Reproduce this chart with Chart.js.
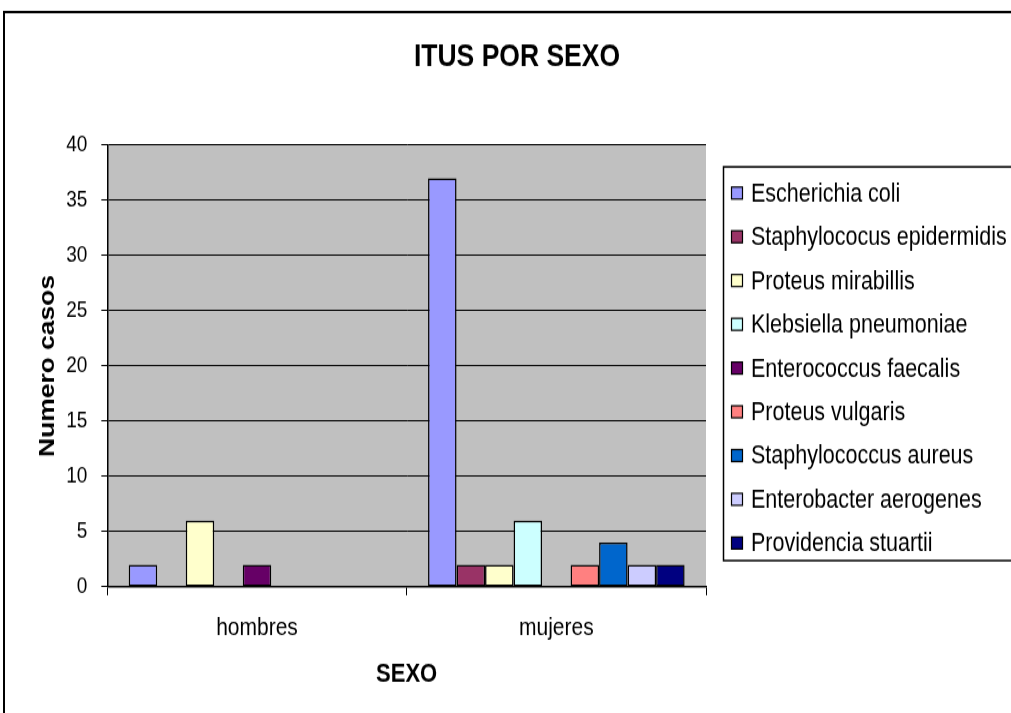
<!DOCTYPE html>
<html>
<head>
<meta charset="utf-8">
<script src="https://cdn.jsdelivr.net/npm/chart.js@4.4.1/dist/chart.umd.min.js"></script>
<style>
  html, body { margin: 0; padding: 0; background: #fff; overflow: hidden; }
  /* the reference is a little taller than wide-proportioned, so stretch the canvas vertically */
  #chart { display: block; width: 1011px !important; height: 713px !important; }
</style>
</head>
<body>
<canvas id="chart" width="1011" height="594" style="width:1011px;height:713px;"></canvas>
<script>
// ─── Data ────────────────────────────────────────────────────────────────────
const chartTitle = 'ITUS POR SEXO';
const categories = ['hombres', 'mujeres'];

const seriesNames = [
  'Escherichia coli',
  'Staphylococus epidermidis',
  'Proteus mirabillis',
  'Klebsiella pneumoniae',
  'Enterococcus faecalis',
  'Proteus vulgaris',
  'Staphylococcus aureus',
  'Enterobacter aerogenes',
  'Providencia stuartii',
];

const escherichiaColi    = [2, 37];
const staphEpidermidis   = [0, 2];
const proteusMirabillis  = [6, 2];
const klebsiella         = [0, 6];
const enterococcus       = [2, 0];
const proteusVulgaris    = [0, 2];
const staphAureus        = [0, 4];
const enterobacter       = [0, 2];
const providencia        = [0, 2];

const yTicks = [0, 5, 10, 15, 20, 25, 30, 35, 40];

const seriesValues = [
  escherichiaColi, staphEpidermidis, proteusMirabillis, klebsiella,
  enterococcus, proteusVulgaris, staphAureus, enterobacter, providencia,
];

const colors = ['#9999FF', '#993366', '#FFFFCC', '#CCFFFF', '#660066',
                '#FF8080', '#0066CC', '#CCCCFF', '#000080'];

const FONT = "'Liberation Sans', Arial, sans-serif";

// ─── Plugins ─────────────────────────────────────────────────────────────────

const backdrop = {
  id: 'backdrop',
  beforeDraw(chart) {
    const { ctx, chartArea: a } = chart;
    ctx.save();
    ctx.fillStyle = '#fff';
    ctx.fillRect(0, 0, chart.width, chart.height);
    ctx.fillStyle = '#C0C0C0';
    ctx.fillRect(a.left, a.top, a.right - a.left, a.bottom - a.top);
    ctx.restore();
  },
};

// frame, centred title and the boxed legend on the right
const frameAndLegend = {
  id: 'frameAndLegend',
  afterDraw(chart) {
    const { ctx } = chart;
    ctx.save();
    ctx.strokeStyle = '#000';
    ctx.lineWidth = 2;
    ctx.strokeRect(4, 10, 1100, 700);

    ctx.fillStyle = '#000';
    ctx.font = `bold 26.5px ${FONT}`;
    ctx.textAlign = 'center';
    ctx.textBaseline = 'middle';
    ctx.fillText(chartTitle, 517, 48);

    ctx.lineWidth = 1.5;
    ctx.strokeRect(723.5, 139, 400, 328);

    ctx.font = `21.5px ${FONT}`;
    ctx.textAlign = 'left';
    chart.data.datasets.forEach((ds, i) => {
      const y = 160.8 + i * 36.45;
      ctx.fillStyle = ds.backgroundColor;
      ctx.fillRect(731.5, y - 5, 11, 10);
      ctx.lineWidth = 1.2;
      ctx.strokeStyle = '#000';
      ctx.strokeRect(731.5, y - 5, 11, 10);
      ctx.fillStyle = '#000';
      ctx.fillText(ds.label, 751, y + 1);
    });
    ctx.restore();
  },
};

// ─── Chart ───────────────────────────────────────────────────────────────────

new Chart(document.getElementById('chart').getContext('2d'), {
  type: 'bar',
  data: {
    labels: categories,
    datasets: seriesNames.map((name, i) => ({
      label: name,
      data: seriesValues[i],
      backgroundColor: colors[i],
      borderColor: '#000',
      borderWidth: 1.5,
      borderSkipped: false,
      categoryPercentage: 9 / 10.5,
      barPercentage: 1,
    })),
  },
  options: {
    responsive: false,
    animation: false,
    devicePixelRatio: 1,
    layout: { padding: { left: 20, right: 305, top: 120.8, bottom: 19 } },
    plugins: {
      legend: { display: false },
      tooltip: { enabled: false },
      title: { display: false },
    },
    scales: {
      x: {
        grid: { drawOnChartArea: false, drawTicks: true, tickLength: 7, color: '#000' },
        border: { color: '#000', width: 1.5 },
        ticks: { color: '#000', padding: 14.5, font: { family: FONT, size: 21 } },
        title: {
          display: true,
          text: 'SEXO',
          color: '#000',
          font: { family: FONT, size: 22, weight: 'bold' },
          padding: { top: -1.5, bottom: 0 },
        },
      },
      y: {
        min: 0,
        max: 40,
        afterBuildTicks: scale => { scale.ticks = yTicks.map(v => ({ value: v })); },
        grid: { color: '#000', lineWidth: 1, tickLength: 6 },
        border: { color: '#000', width: 1.5 },
        ticks: { color: '#000', padding: 14, font: { family: FONT, size: 19 } },
        title: {
          display: true,
          text: 'Numero casos',
          color: '#000',
          font: { family: FONT, size: 22, weight: 'bold' },
          padding: { top: 14.8, bottom: -9 },
        },
      },
    },
  },
  plugins: [backdrop, frameAndLegend],
});
</script>
</body>
</html>
